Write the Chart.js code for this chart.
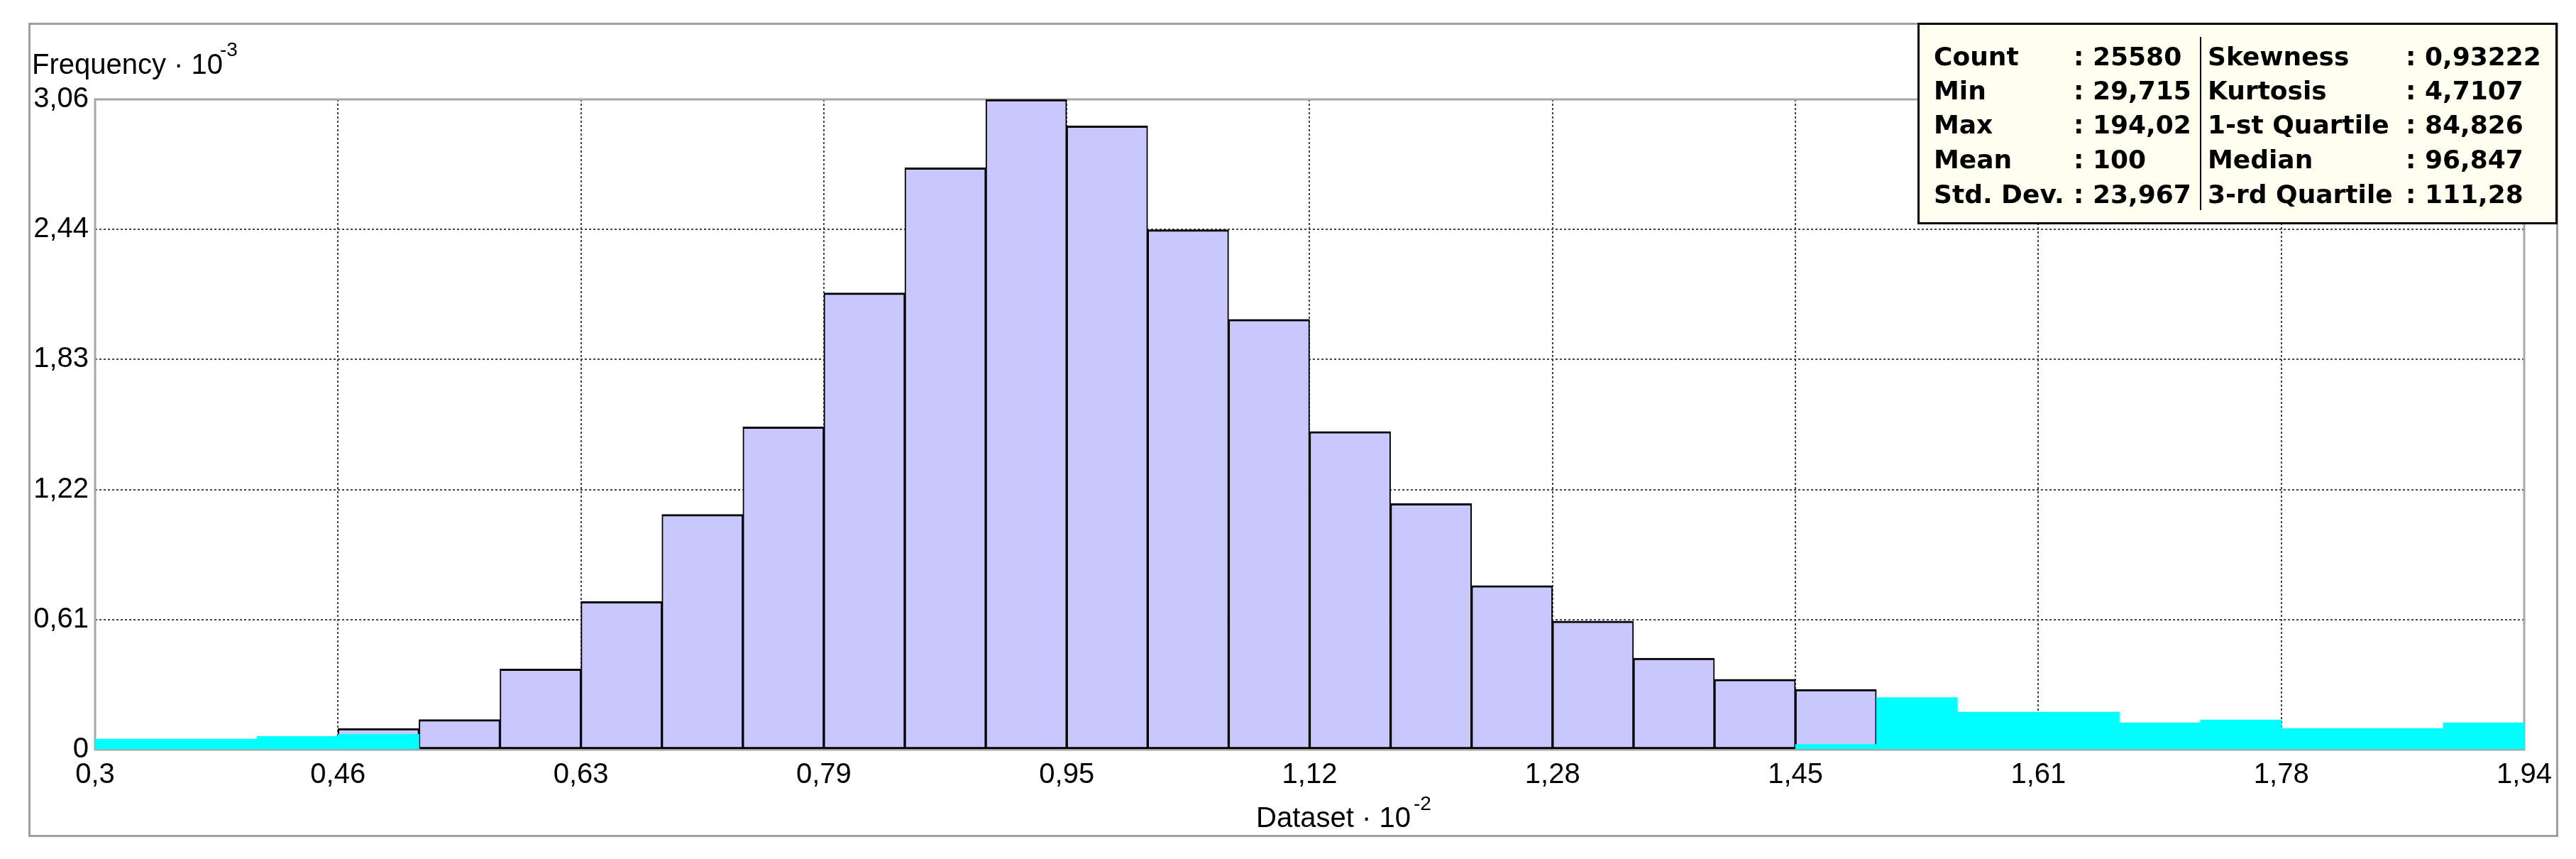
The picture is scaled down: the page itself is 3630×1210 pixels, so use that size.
<!DOCTYPE html>
<html>
<head>
<meta charset="utf-8">
<script src="https://cdn.jsdelivr.net/npm/chart.js@4.4.1/dist/chart.umd.min.js"></script>
<style>
  html, body { margin: 0; padding: 0; background: #fff; }
  #wrap { width: 3630px; height: 1210px; position: relative; }
</style>
</head>
<body>
<div id="wrap"><canvas id="chart"></canvas></div>
<script>
// bins (left edge of each of the 30 classes, dataset * 10^-2)
const binLabels = ['0,297','0,352','0,407','0,461','0,516','0,571','0,626','0,681','0,735','0,790',
                   '0,845','0,900','0,954','1,009','1,064','1,119','1,173','1,228','1,283','1,338',
                   '1,393','1,447','1,502','1,557','1,612','1,666','1,721','1,776','1,831','1,886']
// frequency * 10^-3, central part of the histogram
const mainFreq = [null, null, null, 0.10, 0.142, 0.38, 0.697, 1.107, 1.519, 2.149,
                  2.738, 3.06, 2.935, 2.447, 2.025, 1.497, 1.158, 0.772, 0.605, 0.431,
                  0.331, 0.284, null, null, null, null, null, null, null, null]
// frequency * 10^-3, tails (cyan)
const tailFreq = [0.05, 0.05, 0.062, 0.072, null, null, null, null, null, null,
                  null, null, null, null, null, null, null, null, null, null,
                  null, 0.025, 0.245, 0.177, 0.177, 0.127, 0.14, 0.10, 0.10, 0.127]

const xTicks = [0.29715, 0.46145, 0.62575, 0.79005, 0.95435, 1.11865, 1.28295, 1.44725, 1.61155, 1.77585, 1.94015]
const xTickLabels = ['0,3','0,46','0,63','0,79','0,95','1,12','1,28','1,45','1,61','1,78','1,94']
const yTicks = [0, 0.612, 1.224, 1.836, 2.448, 3.06]
const yTickLabels = ['0','0,61','1,22','1,83','2,44','3,06']

const statsLeft = [['Count','25580'],['Min','29,715'],['Max','194,02'],['Mean','100'],['Std. Dev.','23,967']]
const statsRight = [['Skewness','0,93222'],['Kurtosis','4,7107'],['1-st Quartile','84,826'],['Median','96,847'],['3-rd Quartile','111,28']]

Chart.defaults.font.family = '"Liberation Sans", Arial, sans-serif'
Chart.defaults.color = '#000'

const gridColor = (n) => (ctx) => (ctx.index === 0 || ctx.index === n - 1) ? 'rgba(0,0,0,0)' : '#444'

// frame, plot border, titles and the statistics box
const decor = {
  id: 'decor',
  beforeDraw(chart) {
    const c = chart.ctx
    c.save()
    c.fillStyle = '#fff'
    c.fillRect(0, 0, chart.width, chart.height)
    c.strokeStyle = '#a0a0a0'
    c.lineWidth = 3
    c.strokeRect(41.5, 33.5, 3562, 1144)
    c.restore()
  },
  beforeDatasetsDraw(chart) {
    const a = chart.chartArea, c = chart.ctx
    c.save()
    c.strokeStyle = '#a8a8a8'
    c.lineWidth = 3
    c.strokeRect(a.left, a.top, a.right - a.left, a.bottom - a.top)
    c.restore()
  },
  afterDraw(chart) {
    const c = chart.ctx
    c.save()
    c.fillStyle = '#000'
    c.textBaseline = 'alphabetic'
    c.font = '40px "Liberation Sans"'
    c.fillText('Frequency · 10', 45, 104)
    c.fillText('Dataset · 10', 1770, 1165)
    c.font = '28px "Liberation Sans"'
    c.fillText('-3', 310, 79)
    c.fillText('-2', 1992, 1141)

    // statistics box
    c.fillStyle = '#fffff0'
    c.fillRect(2703, 32, 901, 283)
    c.strokeStyle = '#000'
    c.lineWidth = 3
    c.strokeRect(2703.5, 33.5, 899, 281)
    c.lineWidth = 2
    c.beginPath()
    c.moveTo(3101, 52)
    c.lineTo(3101, 296)
    c.stroke()
    c.fillStyle = '#000'
    c.font = 'bold 36px "DejaVu Sans"'
    const rowY = [92, 140, 188, 237, 286]
    statsLeft.forEach((r, i) => {
      c.fillText(r[0], 2725, rowY[i])
      c.fillText(': ' + r[1], 2922, rowY[i])
    })
    statsRight.forEach((r, i) => {
      c.fillText(r[0], 3111, rowY[i])
      c.fillText(': ' + r[1], 3390, rowY[i])
    })
    c.restore()
  }
}

new Chart(document.getElementById('chart'), {
  type: 'bar',
  data: {
    labels: binLabels,
    datasets: [
      {
        label: 'tails',
        data: tailFreq,
        backgroundColor: '#00ffff',
        borderWidth: 0,
        grouped: false,
        barPercentage: 1,
        categoryPercentage: 1
      },
      {
        label: 'frequency',
        data: mainFreq,
        backgroundColor: '#c8c8ff',
        borderColor: '#000',
        borderWidth: {top: 3, bottom: 3, left: 2, right: 2},
        borderSkipped: false,
        grouped: false,
        barPercentage: 1,
        categoryPercentage: 1
      }
    ]
  },
  options: {
    responsive: true,
    maintainAspectRatio: false,
    animation: false,
    devicePixelRatio: 1,
    layout: { padding: { left: 0, right: 73, top: 140, bottom: 0 } },
    plugins: { legend: { display: false }, tooltip: { enabled: false } },
    scales: {
      x: {
        type: 'category',
        display: false,
        offset: true
      },
      xv: {
        type: 'linear',
        position: 'bottom',
        offset: false,
        min: 0.29715,
        max: 1.94015,
        afterBuildTicks: (s) => { s.ticks = xTicks.map(v => ({ value: v })) },
        afterFit: (s) => { s.height = 154 },
        ticks: {
          autoSkip: false,
          maxRotation: 0,
          padding: 12,
          font: { size: 40 },
          color: '#000',
          callback: (v, i) => xTickLabels[i]
        },
        grid: { offset: false, color: gridColor(xTicks.length), lineWidth: 2, drawTicks: false },
        border: { display: false, dash: [3, 3] }
      },
      y: {
        min: 0,
        max: 3.06,
        afterBuildTicks: (s) => { s.ticks = yTicks.map(v => ({ value: v })) },
        afterFit: (s) => { s.width = 134 },
        ticks: {
          padding: 9,
          font: { size: 40 },
          color: '#000',
          callback: (v, i) => yTickLabels[i]
        },
        grid: { color: gridColor(yTicks.length), lineWidth: 2, drawTicks: false },
        border: { display: false, dash: [3, 3] }
      }
    }
  },
  plugins: [decor]
})
</script>
</body>
</html>
